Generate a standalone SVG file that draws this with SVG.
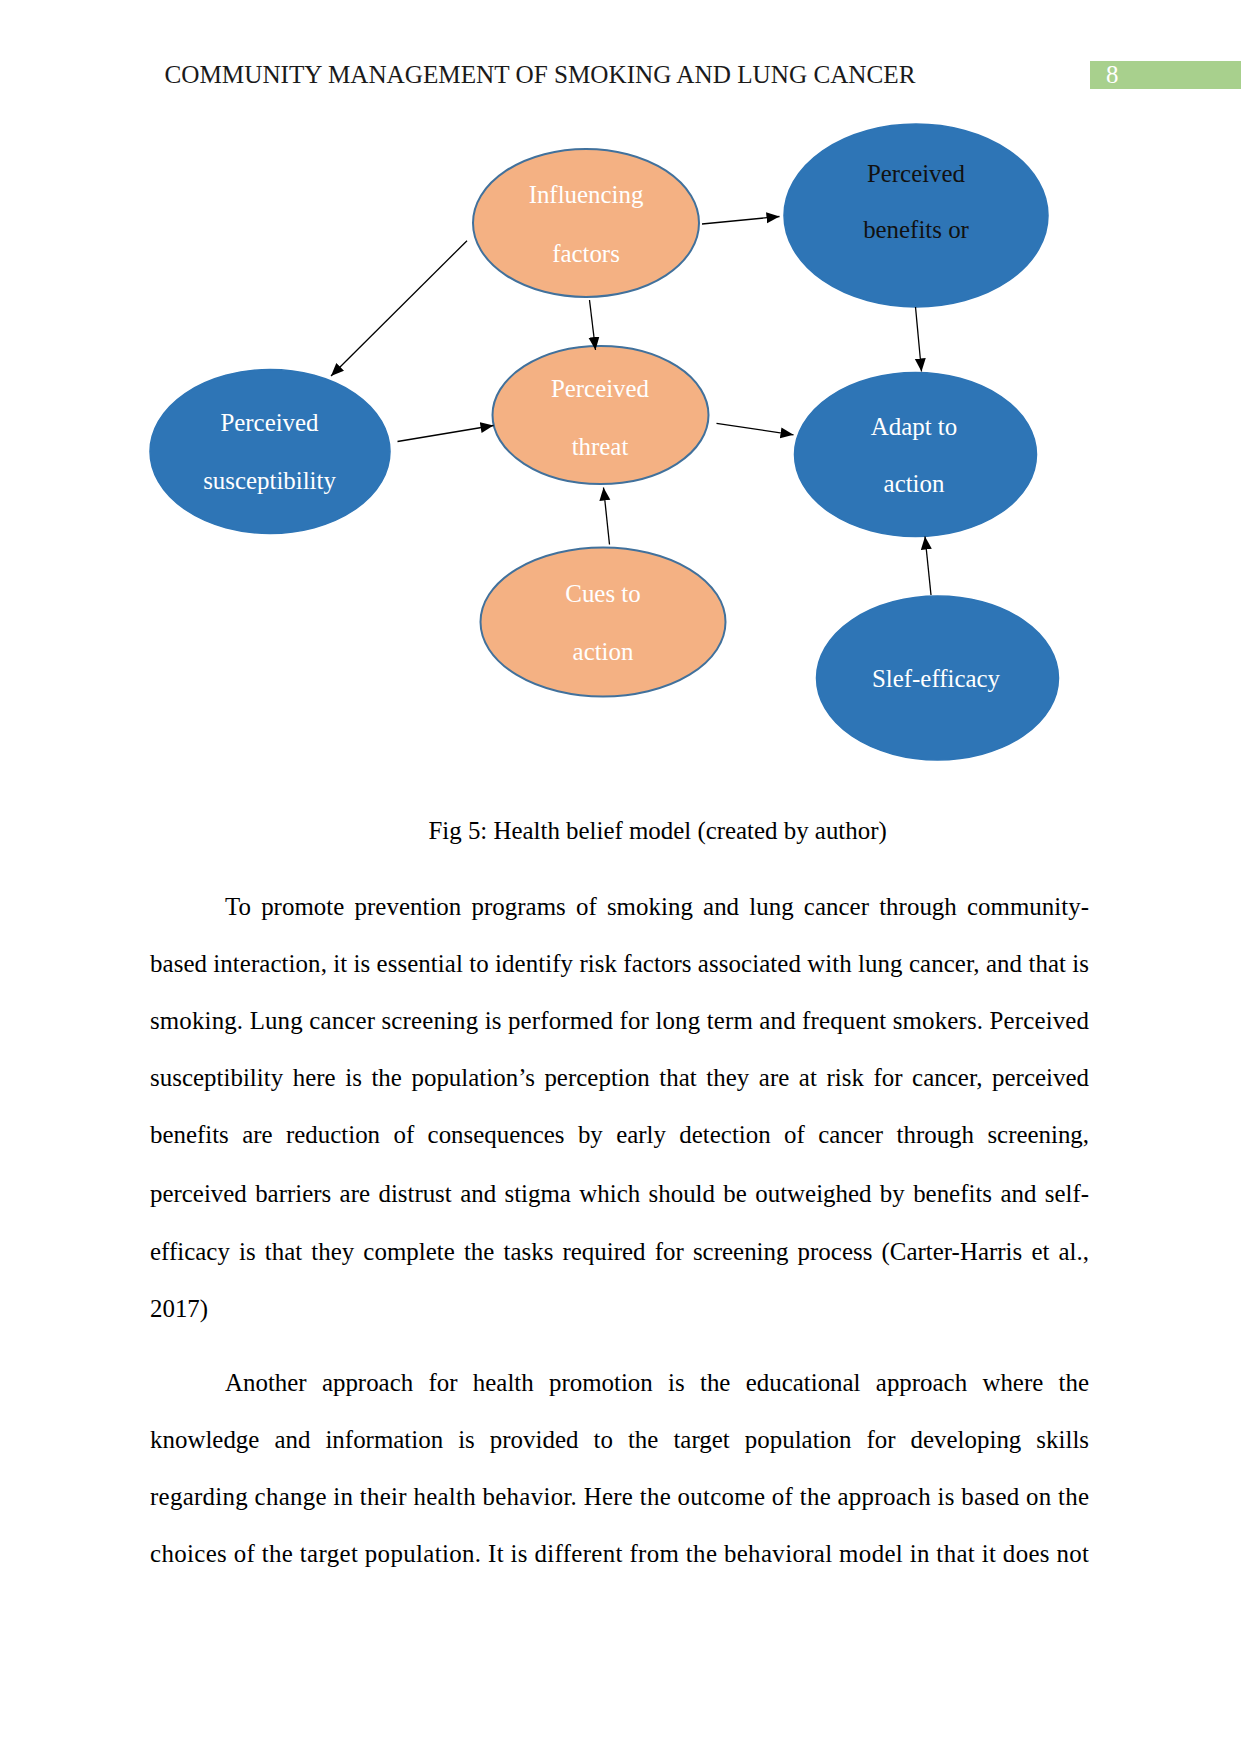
<svg xmlns="http://www.w3.org/2000/svg" width="1241" height="1754" viewBox="0 0 1241 1754">
<style>
text{font-family:"Liberation Serif","Times New Roman",serif;font-size:24.9px;fill:#000}
.hd{fill:#1a1a1a}
.n text{text-anchor:middle;fill:#fff}
.n text.dk{fill:#111}
.or{fill:#F4B183;stroke:#41719C;stroke-width:2}
.bl{fill:#2E75B6;stroke:#2E75B6;stroke-width:1.5}
.ed line{stroke:#000;stroke-width:1.3;marker-end:url(#ah)}
</style>
<defs>
<marker id="ah" markerUnits="userSpaceOnUse" markerWidth="14" markerHeight="12" refX="13" refY="5.5" orient="auto">
<path d="M0,0 L13,5.5 L0,11 z" fill="#000"/>
</marker>
</defs>
<rect width="1241" height="1754" fill="#fff"/>
<g id="header">
<text class="hd" x="164.5" y="82.7" textLength="751" lengthAdjust="spacingAndGlyphs">COMMUNITY MANAGEMENT OF SMOKING AND LUNG CANCER</text>
<rect x="1090" y="61" width="151" height="28" fill="#A8D08D"/>
<text x="1106" y="82.7" style="fill:#fff">8</text>
</g>
<g id="node-influencing" class="n">
<ellipse class="or" cx="586" cy="223" rx="113" ry="74"/>
<text x="586" y="203">Influencing</text>
<text x="586" y="261.5">factors</text>
</g>
<g id="node-benefits" class="n">
<ellipse class="bl" cx="916" cy="215.5" rx="132" ry="91.5"/>
<text class="dk" x="916" y="181.5">Perceived</text>
<text class="dk" x="916" y="238">benefits or</text>
</g>
<g id="node-threat" class="n">
<ellipse class="or" cx="600.5" cy="415" rx="108" ry="69"/>
<text x="600" y="396.5">Perceived</text>
<text x="600" y="455">threat</text>
</g>
<g id="node-susceptibility" class="n">
<ellipse class="bl" cx="270" cy="451.5" rx="120" ry="82"/>
<text x="269.5" y="430.5">Perceived</text>
<text x="269.5" y="489">susceptibility</text>
</g>
<g id="node-adapt" class="n">
<ellipse class="bl" cx="915.5" cy="454.5" rx="121" ry="82"/>
<text x="914" y="435">Adapt to</text>
<text x="914" y="491.5">action</text>
</g>
<g id="node-cues" class="n">
<ellipse class="or" cx="603" cy="622" rx="122.5" ry="74.5"/>
<text x="603" y="601.5">Cues to</text>
<text x="603" y="660">action</text>
</g>
<g id="node-selfefficacy" class="n">
<ellipse class="bl" cx="937.5" cy="678" rx="121" ry="82"/>
<text x="936" y="686.5">Slef-efficacy</text>
</g>
<g id="connectors" class="ed">
<line x1="467" y1="240.7" x2="331" y2="376"/>
<line x1="702" y1="224" x2="779.5" y2="216.5"/>
<line x1="589.5" y1="300" x2="595.5" y2="350"/>
<line x1="915.5" y1="307" x2="921.5" y2="371.5"/>
<line x1="397.5" y1="441.5" x2="493.5" y2="425.5"/>
<line x1="716.5" y1="423.3" x2="793.5" y2="434.8"/>
<line x1="609.5" y1="544.5" x2="603.5" y2="487.5"/>
<line x1="931" y1="595" x2="925" y2="536.5"/>
</g>
<g id="body">
<text x="428.5" y="839.3">Fig 5: Health belief model (created by author)</text>
<text x="225" y="915" word-spacing="3.9" textLength="864" lengthAdjust="spacing">To promote prevention programs of smoking and lung cancer through community-</text>
<text x="150" y="971.7" textLength="939" lengthAdjust="spacing">based interaction, it is essential to identify risk factors associated with lung cancer, and that is</text>
<text x="150" y="1029" textLength="939" lengthAdjust="spacing">smoking. Lung cancer screening is performed for long term and frequent smokers. Perceived</text>
<text x="150" y="1086" word-spacing="3.3" textLength="939" lengthAdjust="spacing">susceptibility here is the population’s perception that they are at risk for cancer, perceived</text>
<text x="150" y="1143.3" word-spacing="7.2" textLength="939" lengthAdjust="spacing">benefits are reduction of consequences by early detection of cancer through screening,</text>
<text x="150" y="1201.7" word-spacing="2.2" textLength="939" lengthAdjust="spacing">perceived barriers are distrust and stigma which should be outweighed by benefits and self-</text>
<text x="150" y="1259.5" word-spacing="2.9" textLength="939" lengthAdjust="spacing">efficacy is that they complete the tasks required for screening process (Carter-Harris et al.,</text>
<text x="150" y="1316.7">2017)</text>
<text x="225" y="1390.7" word-spacing="9.1" textLength="864" lengthAdjust="spacing">Another approach for health promotion is the educational approach where the</text>
<text x="150" y="1448.3" word-spacing="8.8" textLength="939" lengthAdjust="spacing">knowledge and information is provided to the target population for developing skills</text>
<text x="150" y="1505" textLength="939" lengthAdjust="spacing">regarding change in their health behavior. Here the outcome of the approach is based on the</text>
<text x="150" y="1561.7" textLength="939" lengthAdjust="spacing">choices of the target population. It is different from the behavioral model in that it does not</text>
</g>
</svg>
